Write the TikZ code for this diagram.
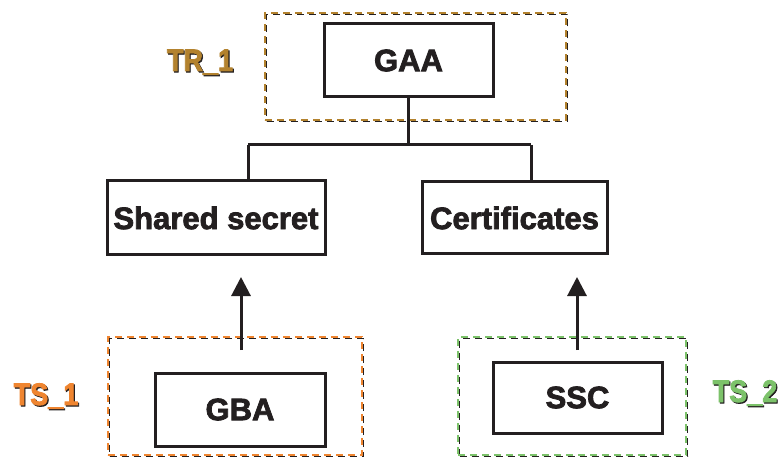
\documentclass[tikz,border=0pt]{standalone}
\usepackage{fontspec}
\usepackage{graphicx}
\setmainfont{Liberation Sans}
\newfontfamily\heavyfont[FakeBold=2.5]{Liberation Sans Bold}
\usetikzlibrary{arrows.meta}
\definecolor{trbrown}{HTML}{B3822E}
\definecolor{tsorange}{HTML}{EF8530}
\definecolor{tsgreen}{HTML}{7CC26A}
\definecolor{ink}{HTML}{231F20}
\newcommand\tall[1]{\scalebox{1}[1.15]{#1}}
\tikzset{
  block/.style={draw=ink, line width=3pt, fill=white, inner sep=0pt,
    font=\heavyfont\fontsize{31}{31}\selectfont, text=ink},
  zone/.style={draw=#1, line width=2.6pt, dash pattern=on 7pt off 5pt,
    inner sep=0pt,
    preaction={draw=ink, line width=1.8pt, dash pattern=on 7pt off 5pt,
      transform canvas={shift={(1.5pt,-1.5pt)}}}},
  tag/.style={font=\heavyfont\fontsize{27}{27}\selectfont, text=#1, inner sep=0pt, anchor=base},
  tagshadow/.style={font=\heavyfont\fontsize{27}{27}\selectfont, text=ink, inner sep=0pt, anchor=base},
  link/.style={draw=ink, line width=3pt},
  arrow/.style={draw=ink, line width=3pt, -{Triangle[length=19pt,width=19pt]}}
}
\begin{document}
\begin{tikzpicture}[x=1pt,y=-1pt]
  \useasboundingbox (0,0) rectangle (782,457);

  % trust domains
  \node[zone=trbrown, minimum width=301pt, minimum height=107pt] (tr) at (415.5,66.5) {};
  \node[zone=tsorange, minimum width=254pt, minimum height=118pt] (ts1) at (235,396) {};
  \node[zone=tsgreen, minimum width=228pt, minimum height=118pt] (ts2) at (572,396) {};

  % components
  \node[block, minimum width=169pt, minimum height=73pt] (gaa) at (408.5,60.5) {GAA};
  \node[block, minimum width=218pt, minimum height=74pt] (ss) at (216,218) {Shared secret};
  \node[block, minimum width=185pt, minimum height=72pt] (cert) at (514.5,218) {Certificates};
  \node[block, minimum width=170pt, minimum height=73pt] (gba) at (240,409.5) {GBA};
  \node[block, minimum width=169pt, minimum height=71pt] (ssc) at (577.5,397.5) {SSC};

  % domain labels (with drop shadow)
  \node[tagshadow] (tr1s) at (201.2,72.2) {\tall{TR\_1}};
  \node[tag=trbrown] (tr1) at (200,71) {\tall{TR\_1}};
  \node[tagshadow] (ts1s) at (47.2,406.2) {\tall{TS\_1}};
  \node[tag=tsorange] (ts1l) at (46,405) {\tall{TS\_1}};
  \node[tagshadow] (ts2s) at (746.2,403.2) {\tall{TS\_2}};
  \node[tag=tsgreen] (ts2l) at (745,402) {\tall{TS\_2}};

  % tree from GAA to its two mechanisms
  \coordinate (busL) at (248,145);
  \coordinate (busR) at (531,145);
  \draw[link] (gaa.south) -- (gaa.south |- busL);
  \draw[link] (busL) -- (busR);
  \draw[link] (busL) -- (busL |- ss.north);
  \draw[link] (busR) -- (busR |- cert.north);

  % arrows from the lower domains
  \coordinate (a1s) at (241,350);
  \coordinate (a1e) at (241,277);
  \coordinate (a2s) at (577,350);
  \coordinate (a2e) at (577,277);
  \draw[arrow] (a1s) -- (a1e);
  \draw[arrow] (a2s) -- (a2e);
\end{tikzpicture}
\end{document}
